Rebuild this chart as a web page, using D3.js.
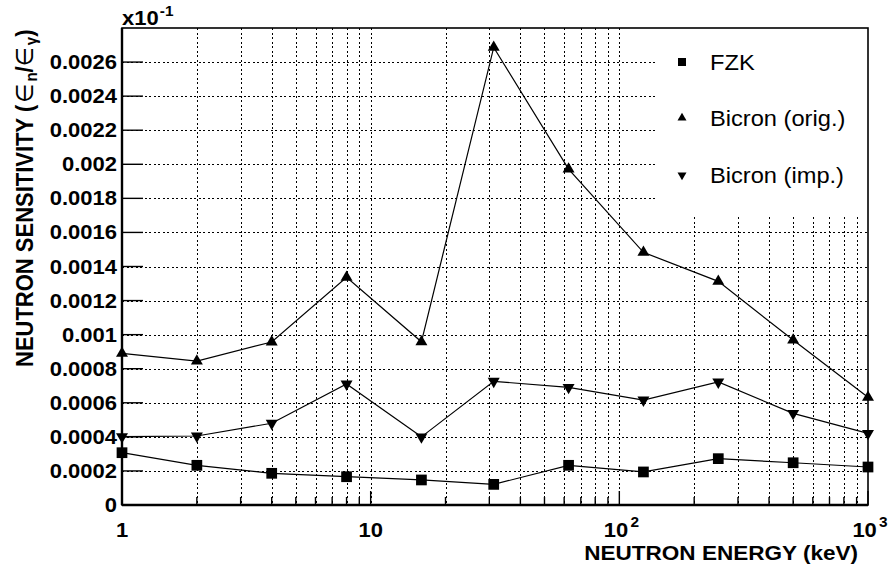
<!DOCTYPE html>
<html>
<head>
<meta charset="utf-8">
<script src="https://cdn.jsdelivr.net/npm/d3@7"></script>
<style>
  html, body { margin: 0; padding: 0; background: #fff; }
  svg { display: block; }
  text { font-family: "Liberation Sans", Arial, Helvetica, sans-serif; fill: #000; }
</style>
</head>
<body>
<svg id="chart" width="888" height="568"></svg>
<script>
// Neutron energy (keV) of each measurement
const energy = [1, 2, 4, 8, 16, 31.25, 62.5, 125, 250, 500, 1000];

// Neutron sensitivity (eps_n / eps_gamma), scaled by x10^-1
const fzk        = [0.000307, 0.000233, 0.000186, 0.000166, 0.000147, 0.000121, 0.000233, 0.000194, 0.000272, 0.000248, 0.000223];
const bicronOrig = [0.000890, 0.000845, 0.000957, 0.001336, 0.000958, 0.002686, 0.001972, 0.001483, 0.001313, 0.000968, 0.000632];
const bicronImp  = [0.000401, 0.000405, 0.000480, 0.000710, 0.000400, 0.000726, 0.000690, 0.000616, 0.000722, 0.000538, 0.000420];

const seriesNames = ["FZK", "Bicron (orig.)", "Bicron (imp.)"];

// Axis ticks
const yTickValues = [0, 0.0002, 0.0004, 0.0006, 0.0008, 0.001, 0.0012, 0.0014, 0.0016, 0.0018, 0.002, 0.0022, 0.0024, 0.0026];
const yTickLabels = ["0", "0.0002", "0.0004", "0.0006", "0.0008", "0.001", "0.0012", "0.0014", "0.0016", "0.0018", "0.002", "0.0022", "0.0024", "0.0026"];
const xMajorValues = [1, 10, 100, 1000];
const xMajorBase = ["1", "10", "10", "10"];
const xMajorExp = ["", "", "2", "3"];

const svg = d3.select("#chart");
const pLeft = 122, pRight = 868, pTop = 28, pBottom = 505;
const SX = 1.1; // horizontal text stretch

const x = d3.scaleLog().domain([1, 1000]).range([pLeft, pRight]);
const y = d3.scaleLinear().domain([0, 0.0028]).range([pBottom, pTop]);

// minor log positions 2..9 per decade
const xMinor = [];
[1, 10, 100].forEach(d => { for (let k = 2; k <= 9; k++) xMinor.push(d * k); });

// Grid
const grid = svg.append("g").attr("stroke", "#000").attr("stroke-width", 1)
  .attr("stroke-dasharray", "2,2.5").attr("shape-rendering", "crispEdges");
grid.selectAll("line.vg").data(xMinor.concat([10, 100])).join("line")
  .attr("x1", d => Math.round(x(d)) + 0.5).attr("x2", d => Math.round(x(d)) + 0.5)
  .attr("y1", pTop).attr("y2", pBottom);
grid.selectAll("line.hg").data(yTickValues.slice(1)).join("line")
  .attr("x1", pLeft).attr("x2", pRight)
  .attr("y1", d => Math.round(y(d)) + 0.5).attr("y2", d => Math.round(y(d)) + 0.5);

// Legend box (covers the grid)
const legend = svg.append("g");
legend.append("rect").attr("x", 657).attr("y", pTop).attr("width", pRight - 657).attr("height", 187).attr("fill", "#fff");

// Ticks
const ticks = svg.append("g").attr("stroke", "#000").attr("stroke-width", 1.4);
ticks.selectAll("line.ym").data(yTickValues).join("line")
  .attr("x1", pLeft).attr("x2", pLeft + 21)
  .attr("y1", d => y(d)).attr("y2", d => y(d));
ticks.selectAll("line.xm").data(xMinor).join("line")
  .attr("x1", d => x(d)).attr("x2", d => x(d))
  .attr("y1", pBottom).attr("y2", pBottom - 8);
ticks.selectAll("line.xM").data(xMajorValues).join("line")
  .attr("x1", d => x(d)).attr("x2", d => x(d))
  .attr("y1", pBottom).attr("y2", pBottom - 14);

// Series lines and markers
const line = d3.line().x((d, i) => x(energy[i])).y(d => y(d));
const data = [fzk, bicronOrig, bicronImp];
const symbols = [d3.symbolSquare, d3.symbolTriangle, d3.symbolTriangle];
const plot = svg.append("g");
data.forEach(vals => {
  plot.append("path").datum(vals).attr("d", line)
    .attr("fill", "none").attr("stroke", "#000").attr("stroke-width", 1.2);
});
function marker(g, s, cx, cy, scale) {
  const size = s === 0 ? 115 : 62;
  g.append("path").attr("d", d3.symbol(symbols[s], size * scale * scale)()).attr("fill", "#000")
    .attr("transform", `translate(${cx},${cy})` + (s === 2 ? " rotate(180)" : ""));
}
data.forEach((vals, s) => {
  vals.forEach((v, i) => marker(plot, s, x(energy[i]), y(v), 1));
});

// Frame
svg.append("rect").attr("x", pLeft).attr("y", pTop).attr("width", pRight - pLeft).attr("height", pBottom - pTop)
  .attr("fill", "none").attr("stroke", "#000").attr("stroke-width", 1.6);
svg.append("line").attr("x1", pLeft).attr("x2", pLeft).attr("y1", pTop).attr("y2", pBottom).attr("stroke", "#000").attr("stroke-width", 2.4);
svg.append("line").attr("x1", pLeft).attr("x2", pRight).attr("y1", pBottom).attr("y2", pBottom).attr("stroke", "#000").attr("stroke-width", 2.4);

// Legend entries
const legY = [62, 118, 175];
seriesNames.forEach((name, s) => {
  marker(legend, s, 682, legY[s], 0.75);
  legend.append("text").attr("transform", `translate(710,${legY[s] + 7.5}) scale(${SX},1)`)
    .attr("font-size", 21.5).text(name);
});

// Y tick labels
svg.append("g").selectAll("text").data(yTickValues).join("text")
  .attr("transform", d => `translate(117,${y(d) + 7}) scale(${SX},1)`)
  .attr("text-anchor", "end").attr("font-size", 20).attr("font-weight", "bold")
  .text((d, i) => yTickLabels[i]);

// X tick labels
const xl = svg.append("g");
xMajorValues.forEach((v, i) => {
  const t = xl.append("text").attr("font-size", 20).attr("font-weight", "bold")
    .attr("text-anchor", "middle")
    .attr("transform", `translate(${x(v) + (xMajorExp[i] ? 2 : 0)},537) scale(${SX},1)`);
  t.append("tspan").text(xMajorBase[i]);
  if (xMajorExp[i]) t.append("tspan").attr("font-size", 14).attr("dy", -10).attr("dx", 2).text(xMajorExp[i]);
});

// Exponent factor
const ex = svg.append("text").attr("transform", `translate(122,25) scale(${SX},1)`)
  .attr("font-size", 20).attr("font-weight", "bold");
ex.append("tspan").text("x10");
ex.append("tspan").attr("font-size", 14).attr("dy", -9).attr("dx", 1).text("-1");

// Axis titles
svg.append("text").attr("transform", `translate(858,560) scale(${SX},1)`)
  .attr("text-anchor", "end").attr("font-size", 20.5).attr("font-weight", "bold")
  .text("NEUTRON ENERGY (keV)");

const yt = svg.append("text").attr("transform", `translate(33,367) scale(${SX},1) rotate(-90)`)
  .attr("text-anchor", "start").attr("font-size", 22).attr("font-weight", "bold");
yt.append("tspan").text("NEUTRON SENSITIVITY (");
yt.append("tspan").attr("font-weight", "normal").attr("font-family", "DejaVu Sans").attr("dx", 2).text("\u2208");
yt.append("tspan").attr("font-size", 15).attr("dy", 4).attr("dx", 2).text("n");
yt.append("tspan").attr("dy", -4).text("/");
yt.append("tspan").attr("font-weight", "normal").attr("font-family", "DejaVu Sans").text("\u2208");
yt.append("tspan").attr("font-size", 15).attr("dy", 4).attr("dx", 2).text("\u03b3");
yt.append("tspan").attr("dy", -4).text(")");
</script>
</body>
</html>
